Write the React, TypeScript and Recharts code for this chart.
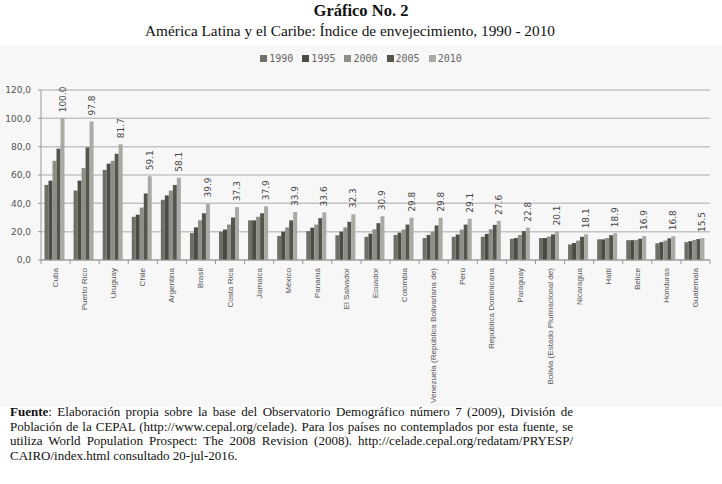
import { BarChart, Bar, XAxis, YAxis, CartesianGrid, Legend, LabelList } from 'recharts'

const countries = [
  'Cuba', 'Puerto Rico', 'Uruguay', 'Chile', 'Argentina', 'Brasil', 'Costa Rica', 'Jamaica',
  'México', 'Panamá', 'El Salvador', 'Ecuador', 'Colombia', 'Venezuela (República Bolivariana de)',
  'Perú', 'República Dominicana', 'Paraguay', 'Bolivia (Estado Plurinacional de)', 'Nicaragua',
  'Haití', 'Belice', 'Honduras', 'Guatemala',
]
const y1990 = [53, 49, 63.6, 30.5, 42.5, 19, 20, 28, 17, 20.4, 17.5, 16.4, 17.7, 15.5, 16.4, 16.4, 15, 15.5, 11, 14.6, 14, 11.8, 12.6]
const y1995 = [56, 56, 68, 32, 45.6, 23, 21.5, 28, 20, 22.8, 20, 18.6, 19.3, 17.7, 18, 18.4, 15.5, 15.5, 12, 14.6, 14, 12.6, 13.3]
const y2000 = [70, 65, 70, 37, 49, 28, 25, 30.5, 23, 25, 23, 21.7, 21.5, 20, 21.5, 21.7, 17.7, 16.6, 13.7, 15.5, 14.2, 13.7, 14.2]
const y2005 = [78.6, 79.5, 75, 47, 53, 33, 30, 33, 28, 29.5, 27, 26, 25, 24.4, 25, 24.8, 20.4, 18.1, 16.4, 17.5, 15, 15.3, 14.8]
const y2010 = [100, 97.8, 81.7, 59.1, 58.1, 39.9, 37.3, 37.9, 33.9, 33.6, 32.3, 30.9, 29.8, 29.8, 29.1, 27.6, 22.8, 20.1, 18.1, 18.9, 16.9, 16.8, 15.5]
const yTicks = [0, 20, 40, 60, 80, 100, 120]

const series = [
  { key: 'y1990', name: '1990', color: '#6e7068' },
  { key: 'y1995', name: '1995', color: '#4b4d45' },
  { key: 'y2000', name: '2000', color: '#8d8f87' },
  { key: 'y2005', name: '2005', color: '#54564e' },
  { key: 'y2010', name: '2010', color: '#a9aaa3' },
]

const data = countries.map((c, i) => ({
  country: c,
  y1990: y1990[i],
  y1995: y1995[i],
  y2000: y2000[i],
  y2005: y2005[i],
  y2010: y2010[i],
}))

const BAND = 669 / countries.length

function CountryTick({ x, y, payload }: any) {
  const left = x - BAND / 2
  const isLast = payload.index === countries.length - 1
  return (
    <g>
      <line x1={left} x2={left} y1={y} y2={y + 4} stroke="#999" />
      {isLast && <line x1={x + BAND / 2} x2={x + BAND / 2} y1={y} y2={y + 4} stroke="#999" />}
      <text
        transform={`translate(${x},${y + 8}) rotate(-90)`}
        textAnchor="end"
        dominantBaseline="central"
        fontSize={8.1}
        fontFamily="'Liberation Sans', Arial, sans-serif"
        fill="#555"
      >
        {payload.value}
      </text>
    </g>
  )
}

function ValueLabel({ x, y, width, value }: any) {
  return (
    <text
      transform={`translate(${x + width / 2},${y - 6}) rotate(-90)`}
      textAnchor="start"
      dominantBaseline="central"
      fontSize={9}
      fontFamily="'DejaVu Sans', sans-serif"
      fill="#444"
    >
      {Number(value).toFixed(1)}
    </text>
  )
}

function TopLegend() {
  return (
    <div style={{ display: 'flex', justifyContent: 'center', gap: 9, fontFamily: "'DejaVu Sans Mono', monospace", fontSize: 10, color: '#666' }}>
      {series.map((s) => (
        <span key={s.key} style={{ display: 'flex', alignItems: 'center' }}>
          <span style={{ width: 7, height: 7, background: s.color, display: 'inline-block', marginRight: 2 }} />
          {s.name}
        </span>
      ))}
    </div>
  )
}

export default function App() {
  return (
    <div style={{ position: 'absolute', top: 0, left: 0, width: 722, height: 484, background: '#fff', fontFamily: "'Liberation Serif', serif", color: '#111' }}>
      <div style={{ position: 'absolute', top: 45, left: 0, width: 722, height: 362, background: '#f7f7f7' }}>
        <BarChart
          width={722}
          height={362}
          data={data}
          margin={{ top: 34, right: 12, left: 0, bottom: 0 }}
          barCategoryGap={3.5}
          barGap={0}
        >
          <CartesianGrid vertical={false} stroke="#c4c4c4" strokeWidth={1.5} />
          <XAxis
            dataKey="country"
            interval={0}
            height={147}
            tickLine={false}
            tickSize={0}
            tickMargin={0}
            axisLine={{ stroke: '#999' }}
            tick={<CountryTick />}
          />
          <YAxis
            domain={[0, 120]}
            ticks={yTicks}
            width={41}
            tickSize={3}
            tickMargin={7}
            tickLine={{ stroke: '#999' }}
            axisLine={{ stroke: '#999' }}
            tick={{ fontSize: 9, fill: '#555', fontFamily: "'DejaVu Sans', sans-serif" }}
            tickFormatter={(v: number) => v.toFixed(1).replace('.', ',')}
          />
          <Legend verticalAlign="top" wrapperStyle={{ top: 8, left: 0, width: 722 }} content={<TopLegend />} />
          {series.map((s) => (
            <Bar key={s.key} dataKey={s.key} name={s.name} fill={s.color} isAnimationActive={false}>
              {s.key === 'y2010' && <LabelList dataKey="y2010" content={<ValueLabel />} />}
            </Bar>
          ))}
        </BarChart>
      </div>
      <div style={{ position: 'absolute', top: 1, width: 722, textAlign: 'center', fontWeight: 'bold', fontSize: 16.5 }}>
        Gráfico No. 2
      </div>
      <div style={{ position: 'absolute', top: 22, left: 0, width: 700, textAlign: 'center', fontSize: 15.3 }}>
        América Latina y el Caribe: Índice de envejecimiento, 1990 - 2010
      </div>
      <div style={{ position: 'absolute', top: 405, left: 10, width: 563, fontSize: 13, lineHeight: '14.6px' }}>
        <div style={{ textAlign: 'justify', textAlignLast: 'justify' }}>
          <b>Fuente</b>: Elaboración propia sobre la base del Observatorio Demográfico número 7 (2009), División de
        </div>
        <div style={{ textAlign: 'justify', textAlignLast: 'justify' }}>
          Población de la CEPAL (http://www.cepal.org/celade). Para los países no contemplados por esta fuente, se
        </div>
        <div style={{ textAlign: 'justify', textAlignLast: 'justify' }}>
          utiliza World Population Prospect: The 2008 Revision (2008). http://celade.cepal.org/redatam/PRYESP/
        </div>
        <div>CAIRO/index.html consultado 20-jul-2016.</div>
      </div>
    </div>
  )
}
